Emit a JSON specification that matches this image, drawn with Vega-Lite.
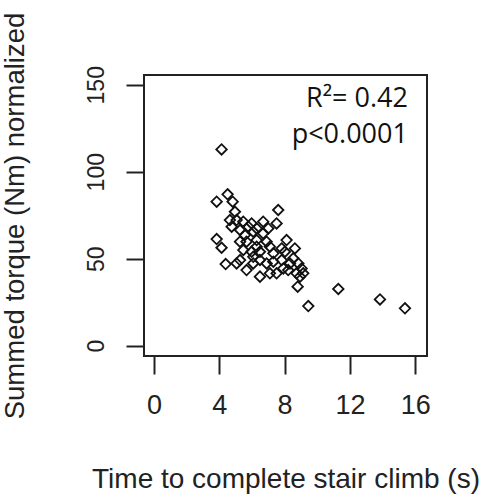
{
  "$schema": "https://vega.github.io/schema/vega-lite/v6.json",
  "width": 283,
  "height": 281,
  "autosize": {"type": "none"},
  "padding": {"left": 144, "top": 75, "right": 60, "bottom": 138},
  "background": "white",
  "config": {
    "view": {"stroke": "#222", "strokeWidth": 2},
    "font": "Liberation Sans"
  },
  "datasets": {
    "pts": [
      {"time": 4.14, "torque": 112.8},
      {"time": 3.84, "torque": 82.8},
      {"time": 4.51, "torque": 87.0},
      {"time": 4.82, "torque": 82.8},
      {"time": 3.84, "torque": 61.3},
      {"time": 4.14, "torque": 56.3},
      {"time": 4.39, "torque": 46.9},
      {"time": 4.96, "torque": 77.0},
      {"time": 4.65, "torque": 72.2},
      {"time": 5.06, "torque": 72.2},
      {"time": 4.76, "torque": 68.4},
      {"time": 5.47, "torque": 71.3},
      {"time": 5.27, "torque": 66.5},
      {"time": 5.78, "torque": 68.4},
      {"time": 5.57, "torque": 63.6},
      {"time": 6.08, "torque": 65.5},
      {"time": 5.67, "torque": 59.8},
      {"time": 6.29, "torque": 60.7},
      {"time": 6.69, "torque": 71.3},
      {"time": 7.51, "torque": 70.3},
      {"time": 7.61, "torque": 78.0},
      {"time": 5.98, "torque": 70.3},
      {"time": 6.29, "torque": 56.9},
      {"time": 6.49, "torque": 54.0},
      {"time": 6.90, "torque": 59.8},
      {"time": 7.10, "torque": 56.9},
      {"time": 7.31, "torque": 53.1},
      {"time": 7.82, "torque": 55.9},
      {"time": 8.12, "torque": 60.7},
      {"time": 8.02, "torque": 54.0},
      {"time": 8.63, "torque": 55.9},
      {"time": 8.53, "torque": 50.2},
      {"time": 8.84, "torque": 47.3},
      {"time": 9.04, "torque": 44.4},
      {"time": 9.14, "torque": 41.6},
      {"time": 6.49, "torque": 49.2},
      {"time": 6.08, "torque": 47.3},
      {"time": 5.27, "torque": 49.2},
      {"time": 5.67, "torque": 43.5},
      {"time": 6.49, "torque": 39.7},
      {"time": 7.10, "torque": 41.6},
      {"time": 7.51, "torque": 41.6},
      {"time": 7.92, "torque": 44.4},
      {"time": 8.33, "torque": 47.3},
      {"time": 6.90, "torque": 47.3},
      {"time": 7.31, "torque": 48.3},
      {"time": 6.08, "torque": 51.1},
      {"time": 5.06, "torque": 47.3},
      {"time": 5.47, "torque": 55.0},
      {"time": 5.98, "torque": 54.0},
      {"time": 6.69, "torque": 64.6},
      {"time": 7.00, "torque": 67.4},
      {"time": 6.29, "torque": 67.4},
      {"time": 5.27, "torque": 59.8},
      {"time": 7.82, "torque": 49.2},
      {"time": 8.22, "torque": 43.5},
      {"time": 8.73, "torque": 41.6},
      {"time": 8.94, "torque": 39.7},
      {"time": 8.80, "torque": 33.9},
      {"time": 9.45, "torque": 22.8},
      {"time": 11.29, "torque": 32.6},
      {"time": 13.84, "torque": 26.6},
      {"time": 15.37, "torque": 21.5}
    ],
    "notes": [
      {"time": 15.55, "torque": 137.2, "label": "R²= 0.42"},
      {"time": 15.55, "torque": 116.5, "label": "p<0.0001"}
    ]
  },
  "layer": [
    {
      "data": {"name": "pts"},
      "mark": {"type": "point", "shape": "diamond", "filled": false, "size": 110, "stroke": "#111", "strokeWidth": 1.8, "opacity": 1},
      "encoding": {
        "x": {
          "field": "time", "type": "quantitative",
          "scale": {"domain": [-0.61, 16.72], "nice": false, "zero": false},
          "axis": {
            "title": "Time to complete stair climb (s)",
            "values": [0, 4, 8, 12, 16],
            "domain": false, "grid": false,
            "tickSize": 18, "tickWidth": 2, "tickColor": "#222",
            "labelFontSize": 27, "labelColor": "#222", "labelBaseline": "alphabetic", "labelPadding": 39,
            "labelFont": "Liberation Sans", "labelFlush": false,
            "titleFontSize": 28, "titleFontWeight": "normal", "titleColor": "#222", "titleFont": "Liberation Sans",
            "titleX": 141.5, "titleY": 131, "titleAlign": "center", "titleBaseline": "alphabetic"
          }
        },
        "y": {
          "field": "torque", "type": "quantitative",
          "scale": {"domain": [-5.92, 155.6], "nice": false, "zero": false},
          "axis": {
            "title": "Summed torque (Nm) normalized",
            "values": [0, 50, 100, 150],
            "domain": false, "grid": false,
            "tickSize": 18, "tickWidth": 2, "tickColor": "#222",
            "labelFontSize": 23, "labelColor": "#222", "labelAngle": -90, "labelAlign": "center", "labelBaseline": "alphabetic", "labelPadding": 23,
            "labelFont": "Liberation Sans", "labelFlush": false,
            "titleFontSize": 27.5, "titleFontWeight": "normal", "titleColor": "#222", "titleFont": "Liberation Sans",
            "titleAngle": -90, "titleX": -121, "titleY": 140.5, "titleAlign": "center", "titleBaseline": "alphabetic"
          }
        }
      }
    },
    {
      "data": {"name": "notes"},
      "mark": {"type": "text", "align": "right", "baseline": "alphabetic", "font": "Open Sans", "fontSize": 27, "color": "#111"},
      "encoding": {
        "x": {"field": "time", "type": "quantitative"},
        "y": {"field": "torque", "type": "quantitative"},
        "text": {"field": "label"}
      }
    }
  ]
}
